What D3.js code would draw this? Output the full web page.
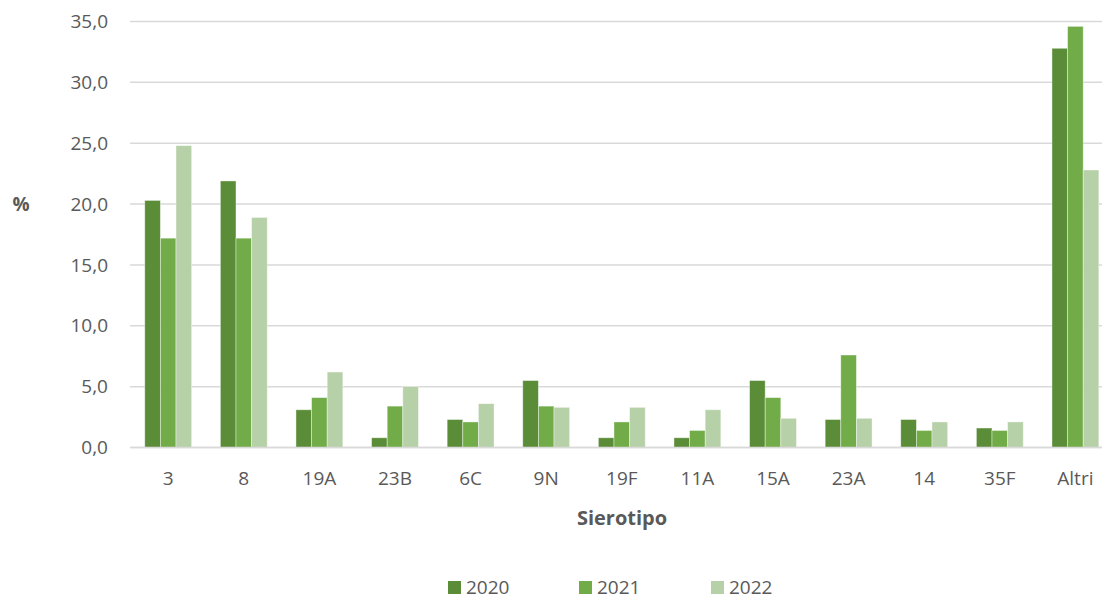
<!DOCTYPE html>
<html><head><meta charset="utf-8">
<script src="https://cdn.jsdelivr.net/npm/d3@7"></script>
<style>body{margin:0;background:#fff}svg{display:block}</style>
</head><body>
<script>
const categories = ["3","8","19A","23B","6C","9N","19F","11A","15A","23A","14","35F","Altri"];
const seriesNames = ["2020","2021","2022"];
const v2020 = [20.3,21.9,3.1,0.8,2.3,5.5,0.8,0.8,5.5,2.3,2.3,1.6,32.8];
const v2021 = [17.2,17.2,4.1,3.4,2.1,3.4,2.1,1.4,4.1,7.6,1.4,1.4,34.6];
const v2022 = [24.8,18.9,6.2,5.0,3.6,3.3,3.3,3.1,2.4,2.4,2.1,2.1,22.8];
const yTicks = [0,5,10,15,20,25,30,35];
const colors = ["#5B8D39","#71AC48","#B6D0A7"];

const W=1102,H=600;
const svg=d3.select("body").append("svg").attr("width",W).attr("height",H);
const font="'Open Sans', 'Noto Sans', sans-serif";
const x=d3.scaleBand().domain(categories).range([130.4,1113.2]).paddingInner(0.38).paddingOuter(0.19);
const xs=d3.scaleBand().domain(seriesNames).range([0,x.bandwidth()]);
const y=d3.scaleLinear().domain([0,35]).range([447.5,21.5]);

// gridlines
svg.append("g").selectAll("line").data(yTicks).join("line")
  .attr("x1",130).attr("x2",W).attr("y1",d=>y(d)).attr("y2",d=>y(d))
  .attr("stroke","#d9d9d9").attr("stroke-width",1.5);

// y labels
const fmt=d=>d.toFixed(1).replace(".",",");
svg.append("g").selectAll("text").data(yTicks).join("text")
  .attr("x",108).attr("y",d=>y(d)).attr("dy","0.35em").attr("text-anchor","end")
  .attr("font-family",font).attr("font-size",19).attr("fill","#595959").text(fmt);

const vals=[v2020,v2021,v2022];
const g=svg.append("g");
seriesNames.forEach((s,i)=>{
  g.append("g").selectAll("rect").data(categories).join("rect")
   .attr("x",(c)=>x(c)+xs(s)).attr("width",xs.bandwidth())
   .attr("y",(c,j)=>y(vals[i][j])).attr("height",(c,j)=>y(0)-y(vals[i][j]))
   .attr("fill",colors[i]).attr("stroke","#fff").attr("stroke-opacity",0.5).attr("stroke-width",0.8);
});

// baseline
svg.append("line").attr("x1",130).attr("x2",W).attr("y1",y(0)).attr("y2",y(0))
  .attr("stroke","#d9d9d9").attr("stroke-width",1.5);

// x labels
svg.append("g").selectAll("text").data(categories).join("text")
  .attr("x",c=>x(c)+x.bandwidth()/2).attr("y",478).attr("dy","0.35em").attr("text-anchor","middle")
  .attr("font-family",font).attr("font-size",19).attr("fill","#595959").text(d=>d);

svg.append("text").attr("x",21).attr("y",204).attr("dy","0.35em").attr("text-anchor","middle")
  .attr("font-family",font).attr("font-size",19).attr("font-weight","bold").attr("fill","#595959").text("%");
svg.append("text").attr("x",622).attr("y",518).attr("dy","0.35em").attr("text-anchor","middle")
  .attr("font-family",font).attr("font-size",20).attr("font-weight","bold").attr("fill","#595959").text("Sierotipo");

// legend
const legX=[448,579,711];
const lg=svg.append("g");
seriesNames.forEach((s,i)=>{
  lg.append("rect").attr("x",legX[i]).attr("y",581).attr("width",13).attr("height",13).attr("fill",colors[i]);
  lg.append("text").attr("x",legX[i]+18).attr("y",587).attr("dy","0.35em")
   .attr("font-family",font).attr("font-size",19).attr("fill","#595959").text(s);
});
</script>
</body></html>
